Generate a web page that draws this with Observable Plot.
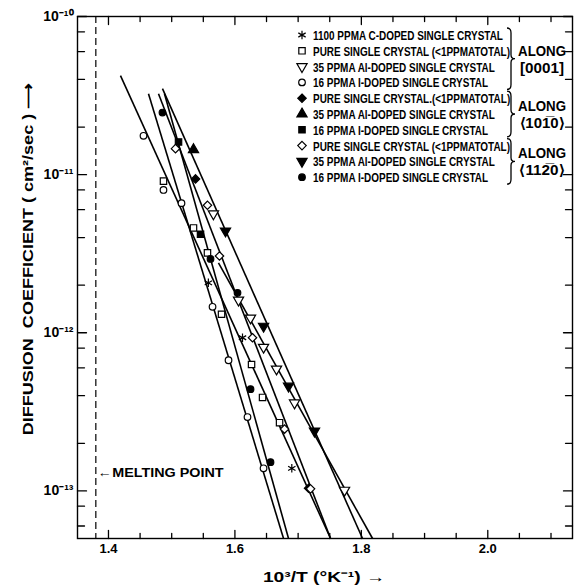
<!DOCTYPE html>
<html><head><meta charset="utf-8">
<script src="https://cdn.jsdelivr.net/npm/d3@7"></script>
<script src="https://cdn.jsdelivr.net/npm/@observablehq/plot@0.6"></script>
<style>
body{margin:0;background:#fff;}
#chart{width:574px;height:588px;}
svg text{font-family:"Liberation Sans",Arial,sans-serif;}
</style></head><body><div id="chart"></div>
<script>
// ---------- axes ----------
const xDomain = [1.351, 2.134];
const yDomain = [5e-14, 1e-10];
const xMajorTicks = [1.4, 1.6, 1.8, 2.0];
const xTickLabels = ["1.4", "1.6", "1.8", "2.0"];
const xMinorTicks = [1.45, 1.5, 1.55, 1.65, 1.7, 1.75, 1.85, 1.9, 1.95, 2.05, 2.1];
const yMajorTicks = [1e-13, 1e-12, 1e-11, 1e-10];
const yTickLabels = ["10⁻¹³", "10⁻¹²", "10⁻¹¹", "10⁻¹⁰"];
const yMinorTicks = [6e-14, 8e-14, 2e-13, 4e-13, 6e-13, 8e-13, 2e-12, 4e-12, 6e-12, 8e-12, 2e-11, 4e-11, 6e-11, 8e-11];
const xLabel = "10³/T (°K⁻¹) →";
const yLabel = "DIFFUSION  COEFFICIENT ( cm²/sec ) ⟶";
const meltingPoint = 1.38;
const meltingLabelY = 1.3e-13;
const meltingLabel = "←MELTING POINT";

// ---------- series ----------
const seriesNames = [
  "1100 PPMA C-DOPED SINGLE CRYSTAL",
  "PURE SINGLE CRYSTAL (<1PPMATOTAL)",
  "35 PPMA Al-DOPED SINGLE CRYSTAL",
  "16 PPMA I-DOPED SINGLE CRYSTAL",
  "PURE SINGLE CRYSTAL.(<1PPMATOTAL)",
  "35 PPMA Al-DOPED SINGLE CRYSTAL",
  "16 PPMA I-DOPED SINGLE CRYSTAL",
  "PURE SINGLE CRYSTAL (<1PPMATOTAL)",
  "35 PPMA Al-DOPED SINGLE CRYSTAL",
  "16 PPMA I-DOPED SINGLE CRYSTAL"
];
const directionGroups = ["ALONG", "ALONG", "ALONG"];
const directionNames = ["[0001]", "⟨101̅0⟩", "⟨112̅0⟩"];

const cDopedC_X = [1.558, 1.612, 1.690];
const cDopedC_Y = [2.07e-12, 9.3e-13, 1.39e-13];
const pureC_X = [1.487, 1.5345, 1.5566, 1.5788, 1.6263, 1.6437, 1.6706];
const pureC_Y = [9.1e-12, 4.6e-12, 3.2e-12, 1.31e-12, 6.3e-13, 3.9e-13, 2.7e-13];
const alC_X = [1.566, 1.6057, 1.6247, 1.6453, 1.6658, 1.6943, 1.7734];
const alC_Y = [5.65e-12, 1.61e-12, 1.24e-12, 8.1e-13, 5.9e-13, 3.6e-13, 1.01e-13];
const iC_X = [1.4554, 1.487, 1.5155, 1.5646, 1.5899, 1.6199, 1.6453];
const iC_Y = [1.76e-11, 8.0e-12, 6.6e-12, 1.46e-12, 6.7e-13, 2.93e-13, 1.39e-13];
const pureA_X = [1.5377, 1.7165];
const pureA_Y = [9.4e-12, 1.04e-13];
const alA_X = [1.5345];
const alA_Y = [1.44e-11];
const iA_X = [1.5108, 1.5456];
const iA_Y = [1.61e-11, 4.2e-12];
const pureB_X = [1.506, 1.5566, 1.5756, 1.6278, 1.6785, 1.7196];
const pureB_Y = [1.46e-11, 6.4e-12, 3.06e-12, 9.3e-13, 2.46e-13, 1.03e-13];
const alB_X = [1.5851, 1.6453, 1.6848, 1.7259];
const alB_Y = [4.4e-12, 1.10e-12, 4.6e-13, 2.39e-13];
const iB_X = [1.4854, 1.5614, 1.6041, 1.6247, 1.6563];
const iB_Y = [2.47e-11, 2.93e-12, 1.79e-12, 4.4e-13, 1.52e-13];

// fitted straight lines (start / end)
const fitX1 = [1.419, 1.4633, 1.4886, 1.4791, 1.4854, 1.574];
const fitY1 = [4.23e-11, 3.25e-11, 3.25e-11, 3.25e-11, 3.5e-11, 2.77e-12];
const fitX2 = [1.7513, 1.6769, 1.6848, 1.7513, 1.8019, 1.8177];
const fitY2 = [5e-14, 5e-14, 5e-14, 5e-14, 5e-14, 5e-14];

// ---------- build ----------
const triDown = {draw(ctx, size) {
  const y = -Math.sqrt(size / (Math.sqrt(3) * 3));
  ctx.moveTo(0, -y * 2); ctx.lineTo(-Math.sqrt(3) * y, y); ctx.lineTo(Math.sqrt(3) * y, y); ctx.closePath();
}};
const styles = [
  {symbol: "asterisk", fill: "none", r: 4},
  {symbol: "square", fill: "white", r: 3.6},
  {symbol: triDown, fill: "white", r: 3.8},
  {symbol: "circle", fill: "white", r: 3.3},
  {symbol: "diamond2", fill: "black", r: 3.8},
  {symbol: "triangle", fill: "black", r: 3.8},
  {symbol: "square", fill: "black", r: 3.6},
  {symbol: "diamond2", fill: "white", r: 3.8},
  {symbol: triDown, fill: "black", r: 3.8},
  {symbol: "circle", fill: "black", r: 3.3}
];
const seriesXY = [
  [cDopedC_X, cDopedC_Y], [pureC_X, pureC_Y], [alC_X, alC_Y], [iC_X, iC_Y],
  [pureA_X, pureA_Y], [alA_X, alA_Y], [iA_X, iA_Y],
  [pureB_X, pureB_Y], [alB_X, alB_Y], [iB_X, iB_Y]
];
const points = seriesXY.flatMap(([xs, ys], s) => xs.map((x, i) => ({x, y: ys[i], s})));
const fits = fitX1.map((x1, i) => ({x1, y1: fitY1[i], x2: fitX2[i], y2: fitY2[i]}));

const tickShape = {draw(ctx, l) { ctx.moveTo(0, 0); ctx.lineTo(0, -l); }};
const font = "Liberation Sans, Arial, sans-serif";
const tk = {anchor: "start", shape: tickShape, stroke: "black", strokeWidth: 1.3};

const marks = [
  Plot.frame({stroke: "black", strokeWidth: 1.4}),
  Plot.ruleX([meltingPoint], {stroke: "black", strokeWidth: 1.2, strokeDasharray: "7,4"}),
  Plot.link(fits, {x1: "x1", y1: "y1", x2: "x2", y2: "y2", stroke: "black", strokeWidth: 1.6}),
  // ticks (inward)
  Plot.vector(yMajorTicks, {y: d => d, frameAnchor: "left", rotate: 90, length: 9, ...tk}),
  Plot.vector(yMinorTicks, {y: d => d, frameAnchor: "left", rotate: 90, length: 7, ...tk}),
  Plot.vector(yMajorTicks, {y: d => d, frameAnchor: "right", rotate: -90, length: 9, ...tk}),
  Plot.vector(yMinorTicks, {y: d => d, frameAnchor: "right", rotate: -90, length: 7, ...tk}),
  Plot.vector(xMajorTicks, {x: d => d, frameAnchor: "bottom", rotate: 0, length: 8, ...tk}),
  Plot.vector(xMinorTicks, {x: d => d, frameAnchor: "bottom", rotate: 0, length: 5, ...tk}),
  Plot.vector(xMajorTicks, {x: d => d, frameAnchor: "top", rotate: 180, length: 8, ...tk}),
  Plot.vector(xMinorTicks, {x: d => d, frameAnchor: "top", rotate: 180, length: 5, ...tk}),
  // tick labels
  Plot.text(xMajorTicks, {x: d => d, text: (d, i) => xTickLabels[i], frameAnchor: "bottom", dy: 10, lineAnchor: "middle", fontSize: 13, fontWeight: "bold", fill: "black", fontFamily: font}),
  Plot.text(yMajorTicks, {y: d => d, text: (d, i) => yTickLabels[i], frameAnchor: "left", dx: -4, textAnchor: "end", fontSize: 14, fontWeight: "bold", fill: "black", fontFamily: font}),
  // melting point
  Plot.text([meltingLabel], {x: meltingPoint, y: meltingLabelY, text: d => d, textAnchor: "start", dx: 2, fontSize: 13, fontWeight: "bold", fill: "black", fontFamily: font}),
  // points
  ...styles.map((st, s) => Plot.dot(points.filter(p => p.s === s), {
    x: "x", y: "y", symbol: st.symbol, r: st.r,
    fill: st.fill, stroke: "black", strokeWidth: 1.2
  }))
];

const chart = Plot.plot({
  width: 574, height: 588,
  marginLeft: 77, marginRight: 2, marginTop: 16, marginBottom: 50,
  x: {domain: xDomain, axis: null},
  y: {type: "log", domain: yDomain, axis: null},
  style: {background: "white", color: "black"},
  marks
});
document.getElementById("chart").appendChild(chart);

// ---------- titles and legend ----------
const svg = d3.select(chart);
const squeezeTo = (t, width) => {
  const w = t.node().getComputedTextLength();
  const tr = t.attr("transform") || "";
  t.attr("transform", `${tr} scale(${width / w},1)`);
};
svg.selectAll("text").each(function () {
  const t = d3.select(this);
  if (t.text().startsWith("←")) squeezeTo(t, 126);
});
const addText = (str, x, y, size, anchor) => svg.append("text")
  .attr("transform", `translate(${x},${y})`).attr("text-anchor", anchor)
  .attr("font-size", size).attr("font-weight", "bold").attr("font-family", font).attr("fill", "black").text(str);

squeezeTo(addText(xLabel, 324, 582, 15, "middle"), 122);
const yt = addText(yLabel, 33, 259, 15, "middle");
yt.attr("transform", yt.attr("transform") + " rotate(-90)");
squeezeTo(yt, 353);

const rowY0 = 35, rowH = 15.8, symX = 302, txtX = 313;
const symFor = st => {
  if (st.symbol === triDown) return triDown;
  return ({asterisk: d3.symbolAsterisk, square: d3.symbolSquare, circle: d3.symbolCircle, diamond2: d3.symbolDiamond2, triangle: d3.symbolTriangle})[st.symbol];
};
let legendScale = null;
seriesNames.forEach((name, i) => {
  const y = rowY0 + i * rowH;
  const st = styles[i];
  svg.append("path")
    .attr("d", d3.symbol(symFor(st), Math.PI * st.r * st.r)())
    .attr("transform", `translate(${symX},${y})`)
    .attr("fill", st.fill).attr("stroke", "black").attr("stroke-width", 1.2);
  const t = addText(name, txtX, y + 5, 13.5, "start");
  if (legendScale === null) legendScale = 190 / t.node().getComputedTextLength();
  t.attr("transform", t.attr("transform") + ` scale(${legendScale},1)`);
});
const groups = [[0, 3], [4, 6], [7, 9]];
groups.forEach(([a, b], g) => {
  const y1 = rowY0 + a * rowH - 7, y2 = rowY0 + b * rowH + 7, ym = (y1 + y2) / 2, x = 507;
  svg.append("path")
    .attr("d", `M${x},${y1} Q${x + 4},${y1} ${x + 4},${y1 + 5} L${x + 4},${ym - 4} Q${x + 4},${ym} ${x + 8},${ym} Q${x + 4},${ym} ${x + 4},${ym + 4} L${x + 4},${y2 - 5} Q${x + 4},${y2} ${x},${y2}`)
    .attr("fill", "none").attr("stroke", "black").attr("stroke-width", 1.3);
  squeezeTo(addText(directionGroups[g], 542, ym - 3, 14, "middle"), 48);
  squeezeTo(addText(directionNames[g], 542, ym + 14, 14, "middle"), 44);
});
</script></body></html>
